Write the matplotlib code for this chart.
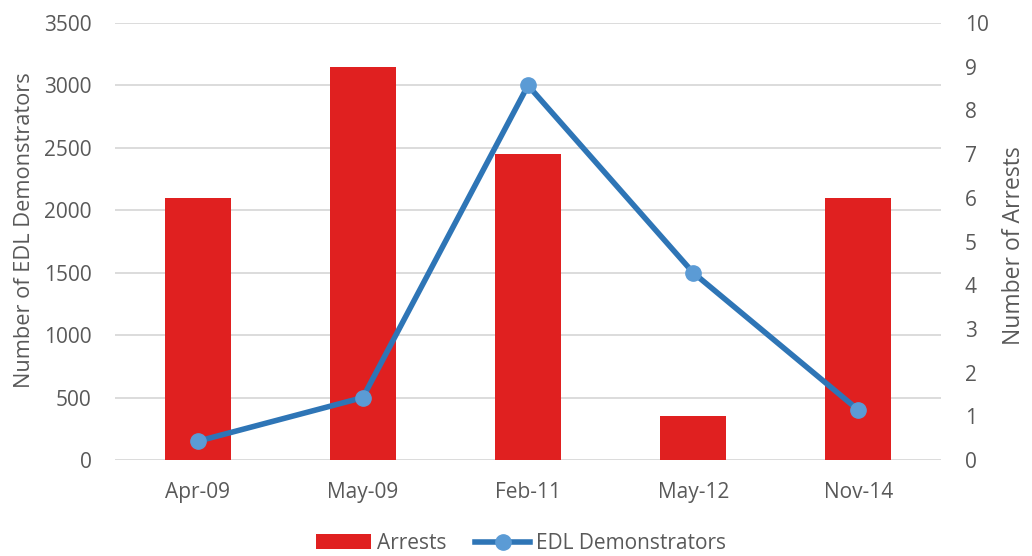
import matplotlib
matplotlib.use("Agg")
import matplotlib.pyplot as plt
from matplotlib.patches import Patch
from matplotlib.lines import Line2D

categories = ["Apr-09", "May-09", "Feb-11", "May-12", "Nov-14"]
arrests = [6, 9, 7, 1, 6]
demonstrators = [150, 500, 3000, 1500, 400]

plt.rcParams['font.family'] = ['Open Sans', 'DejaVu Sans']
text_color = "#595959"
bar_color = "#E02020"
line_color = "#2E75B6"
marker_color = "#5B9BD5"

fig = plt.figure(figsize=(10.32, 5.56), dpi=100)
rect = [115/1032, (556-460)/556, (941-115)/1032, (460-23)/556]

# bottom axes: left scale, gridlines, ticks
ax = fig.add_axes(rect)
# middle axes: bars on right scale
ax2 = ax.twinx()
# top axes: line on left scale
ax3 = fig.add_axes(rect, sharex=ax, sharey=ax)
ax3.patch.set_visible(False)
ax3.axis("off")

x = list(range(len(categories)))
ax2.bar(x, arrests, width=0.4, color=bar_color)
ax3.plot(x, demonstrators, color=line_color, linewidth=4, marker="o",
         markersize=11, markerfacecolor=marker_color, markeredgecolor=marker_color,
         solid_capstyle="round")

ax.set_zorder(0)
ax2.set_zorder(1)
ax3.set_zorder(2)
ax2.patch.set_visible(False)

ax.set_xlim(-0.5, len(categories) - 0.5)
ax.set_ylim(0, 3500)
ax.set_yticks(range(0, 3501, 500))
ax2.set_ylim(0, 10)
ax2.set_yticks(range(0, 11))

ax.yaxis.grid(True, color="#D9D9D9", linewidth=1.3)
ax.set_axisbelow(True)

for a in (ax, ax2):
    for s in a.spines.values():
        s.set_visible(False)
    a.tick_params(length=0, labelsize=15, colors=text_color)
ax.tick_params(axis="y", pad=17)
ax2.tick_params(axis="y", pad=17)

ax.set_xticks(x)
ax.set_xticklabels(categories)
ax.tick_params(axis="x", pad=16)

ax.set_ylabel("Number of EDL Demonstrators", fontsize=15.7, color=text_color, va="center")
ax.yaxis.set_label_coords(-0.109, 0.526)
ax2.set_ylabel("Number of Arrests", fontsize=16.5, color=text_color, va="center",
               rotation=90)
ax2.yaxis.set_label_coords(1.088, 0.49)

handles = [Patch(facecolor=bar_color, label="Arrests"),
           Line2D([0], [0], color=line_color, linewidth=4, marker="o", markersize=11,
                  markerfacecolor=marker_color, markeredgecolor=marker_color,
                  label="EDL Demonstrators")]
leg = fig.legend(handles=handles, loc="lower center", bbox_to_anchor=(0.505, 0.0),
                 ncol=2, frameon=False, fontsize=15, handlelength=2.6,
                 columnspacing=1.4, handletextpad=0.3, borderpad=0.1,
                 borderaxespad=0)
for t in leg.get_texts():
    t.set_color(text_color)

fig.savefig("out.png", dpi=100)
